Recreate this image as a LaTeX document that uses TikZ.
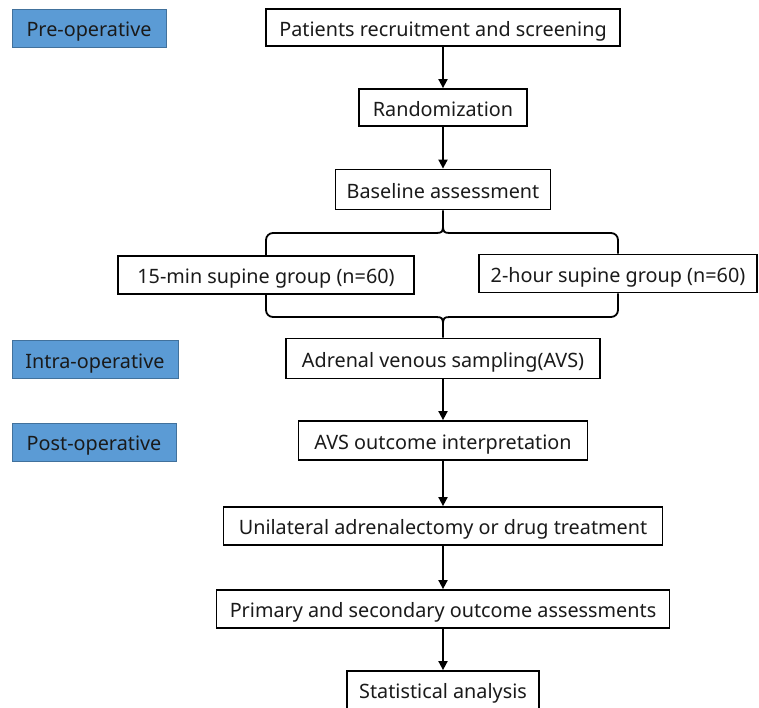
\documentclass[tikz,border=0pt]{standalone}
\usepackage{fontspec}
\setmainfont{Noto Sans}
\usetikzlibrary{arrows.meta,calc}
\definecolor{lblue}{HTML}{5B9BD5}
\definecolor{lblueborder}{HTML}{41719C}
\definecolor{txt}{HTML}{1A1A1A}
\begin{document}
\begin{tikzpicture}[x=1pt,y=-1pt,
  box/.style={draw=black, line width=1.8pt, fill=white, minimum height=38pt, inner xsep=0pt,
    inner ysep=0pt, text height=18pt, text depth=1pt,
    font=\fontsize{19.8}{22}\selectfont, text=txt},
  phase/.style={draw=lblueborder, line width=1pt, fill=lblue, minimum height=38pt, inner xsep=0pt,
    inner ysep=0pt, text height=18pt, text depth=1pt,
    font=\fontsize{19.8}{22}\selectfont, text=txt},
  arr/.style={line width=1.8pt, -{Triangle[length=9pt,width=9pt]}},
  bline/.style={line width=1.8pt, line join=round}]
\clip (0,0) rectangle (759,707);
% phase labels
\node[phase, minimum width=154pt] (pre) at (89,28) {Pre-operative};
\node[phase, minimum width=166pt] (intra) at (95,359.5) {Intra-operative};
\node[phase, minimum width=164pt] (post) at (94,442) {Post-operative};
% flow boxes
\node[box, minimum width=354pt, minimum height=37pt] (pat) at (443,27.5) {Patients recruitment and screening};
\node[box, minimum width=168pt, minimum height=37pt] (rand) at (443,107.5) {Randomization};
\node[box, minimum width=215pt, minimum height=40pt] (base) at (443,189.5) {Baseline assessment};
\node[box, minimum width=296pt] (g1) at (266,275) {15-min supine group (n=60)};
\node[box, minimum width=278pt] (g2) at (618,273.5) {2-hour supine group (n=60)};
\node[box, minimum width=314pt, minimum height=40pt] (avs) at (443,358.5) {Adrenal venous sampling(AVS)};
\node[box, minimum width=289pt, minimum height=39pt] (avso) at (443,440.5) {AVS outcome interpretation};
\node[box, minimum width=439pt] (uni) at (443,526) {Unilateral adrenalectomy or drug treatment};
\node[box, minimum width=453pt] (prim) at (443,609) {Primary and secondary outcome assessments};
\node[box, minimum width=192pt] (stat) at (443,690) {Statistical analysis};
% arrows
\draw[arr] (pat.south) -- (rand.north);
\draw[arr] (rand.south) -- (base.north);
\draw[arr] (avs.south) -- (avso.north);
\draw[arr] (avso.south) -- (uni.north);
\draw[arr] (uni.south) -- (prim.north);
\draw[arr] (prim.south) -- (stat.north);
% braces
\coordinate (tb) at (443,233);
\coordinate (bb) at (443,317);
\draw[bline, rounded corners=7pt] (g1.north) -- (g1.north |- tb) -- ($(tb)+(-7,0)$);
\draw[bline] ($(tb)+(-7,0)$) .. controls ($(tb)+(-1,0)$) and ($(tb)+(0,-1)$) .. ($(tb)+(0,-8)$) -- (base.south);
\draw[bline, rounded corners=7pt] (g2.north) -- (g2.north |- tb) -- ($(tb)+(7,0)$);
\draw[bline] ($(tb)+(7,0)$) .. controls ($(tb)+(1,0)$) and ($(tb)+(0,-1)$) .. ($(tb)+(0,-8)$);
\draw[bline, rounded corners=7pt] (g1.south) -- (g1.south |- bb) -- ($(bb)+(-7,0)$);
\draw[bline] ($(bb)+(-7,0)$) .. controls ($(bb)+(-1,0)$) and ($(bb)+(0,1)$) .. ($(bb)+(0,8)$) -- (avs.north);
\draw[bline, rounded corners=7pt] (g2.south) -- (g2.south |- bb) -- ($(bb)+(7,0)$);
\draw[bline] ($(bb)+(7,0)$) .. controls ($(bb)+(1,0)$) and ($(bb)+(0,1)$) .. ($(bb)+(0,8)$);
\end{tikzpicture}
\end{document}
